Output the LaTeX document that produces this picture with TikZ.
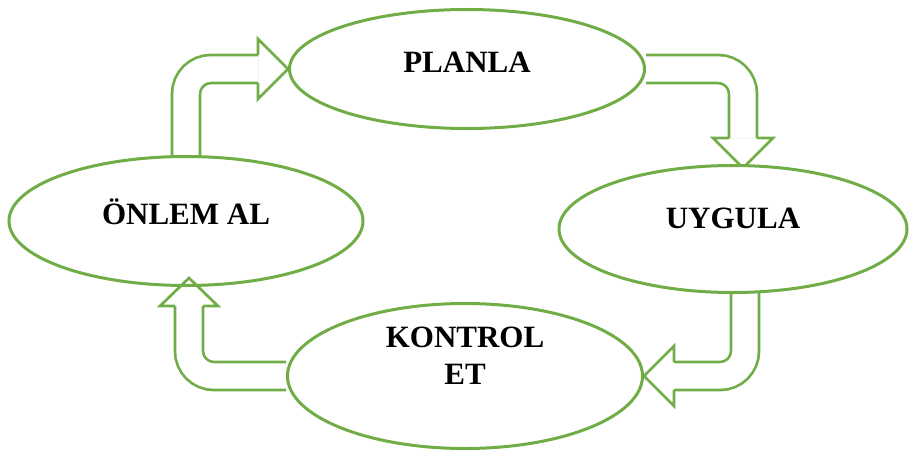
\documentclass[tikz,border=0pt]{standalone}
\usepackage{fontspec}
\setmainfont{Liberation Serif}
\usetikzlibrary{shapes.geometric,calc,backgrounds}
\definecolor{cyclegreen}{RGB}{112,173,71}
\tikzset{
    stage/.style={ellipse, draw=cyclegreen, line width=3pt, fill=white, inner sep=0pt, align=center,
        font=\fontsize{31}{37}\selectfont\bfseries, text height=21pt, text depth=14pt},
    shaft/.style={draw=cyclegreen, line width=2.7pt, double=white, double distance=25.3pt, rounded corners=25pt},
    headline/.style={draw=cyclegreen, line width=2.7pt, line join=miter}
}
\begin{document}
\begin{tikzpicture}[x=1pt, y=-1pt]
        \useasboundingbox (0, 0) rectangle (909, 452);

        \node[stage, minimum width=355pt, minimum height=119pt] (planla) at (467, 69) {PLANLA};
        \node[stage, minimum width=348pt, minimum height=127pt, text depth=22pt] (uygula) at (733, 229) {UYGULA};
        \node[stage, minimum width=355pt, minimum height=145pt, text depth=4pt] (kontrol) at (465, 376) {KONTROL\\ET};
        \node[stage, minimum width=354pt, minimum height=129pt] (onlem) at (186, 221) {ÖNLEM AL};

        \coordinate (a1) at ($(planla.west)+(-30, 0)$);
        \coordinate (a2) at ($(uygula.north)+(10, -26)$);
        \coordinate (a3) at ($(kontrol.east)+(30, 0)$);
        \coordinate (a4tip) at ($(onlem.south)+(3, -9)$);
        \coordinate (a4) at ($(a4tip)+(0, 28)$);

        \begin{scope}[on background layer]
        \draw[shaft] (onlem) |- (a1);
        \draw[headline] ($(a1)+(0, -14)$) -- ($(a1)+(0, -30)$) -- (planla.west) -- ($(a1)+(0, 30)$) -- ($(a1)+(0, 14)$);
        \draw[shaft] (planla) -| (a2);
        \draw[headline] ($(a2)+(-14, 0)$) -- ($(a2)+(-30, 0)$) -- ($(a2)+(0, 30)$) -- ($(a2)+(30, 0)$) -- ($(a2)+(14, 0)$);
        \draw[shaft] ($(uygula)+(12, 0)$) |- (a3);
        \draw[headline] ($(a3)+(0, -14)$) -- ($(a3)+(0, -30)$) -- (kontrol.east) -- ($(a3)+(0, 30)$) -- ($(a3)+(0, 14)$);
        \draw[shaft] (kontrol) -| (a4);
        \end{scope}
        \draw[headline] ($(a4)+(-14, 0)$) -- ($(a4)+(-29, 0)$) -- (a4tip) -- ($(a4)+(29, 0)$) -- ($(a4)+(14, 0)$);

    \end{tikzpicture}
\end{document}
